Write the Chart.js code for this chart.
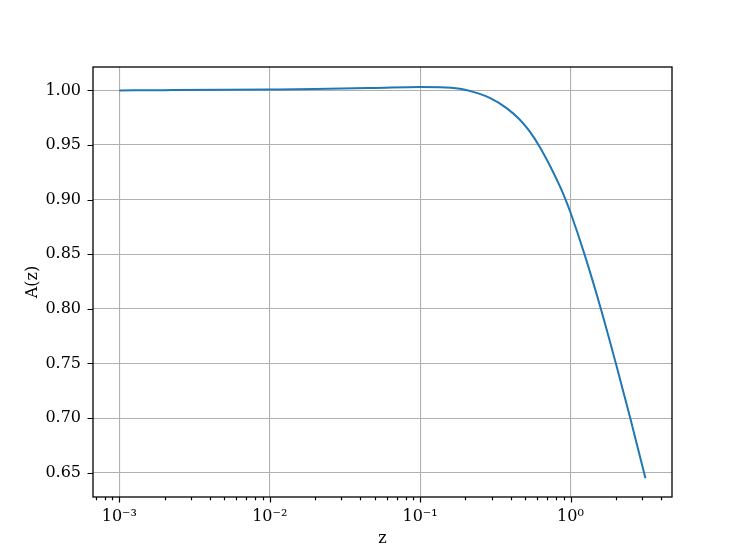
<!DOCTYPE html>
<html>
<head>
<meta charset="utf-8">
<script src="https://cdn.jsdelivr.net/npm/chart.js@4"></script>
<style>
  html, body { margin: 0; padding: 0; background: #fff; }
  #wrap { width: 747px; height: 560px; }
</style>
</head>
<body>
<div id="wrap"><canvas id="chart" width="747" height="560"></canvas></div>
<script>
// redshift values and the curve
const zValues = [0.001, 0.002, 0.005, 0.01, 0.02, 0.05, 0.1, 0.136, 0.184, 0.225, 0.29, 0.374, 0.459, 0.535, 0.623, 0.726, 0.849, 0.927, 1.0, 1.244, 1.589, 1.995, 2.49, 3.15];
const aValues = [1.0000, 1.0002, 1.0005, 1.0008, 1.0012, 1.0022, 1.0031, 1.0029, 1.0014, 0.9986, 0.9931, 0.984, 0.9733, 0.9624, 0.9485, 0.9317, 0.9123, 0.9001, 0.8882, 0.8492, 0.8004, 0.7509, 0.7005, 0.645];

const xMajorTicks = [0.001, 0.01, 0.1, 1];
const xTickLabels = ["10⁻³", "10⁻²", "10⁻¹", "10⁰"];
const yTicks = [0.65, 0.70, 0.75, 0.80, 0.85, 0.90, 0.95, 1.00];

const X_MIN = 6.68e-4;
const X_MAX = 4.73;
const Y_MIN = 0.6278;
const Y_MAX = 1.0214;

const FONT = "'DejaVu Serif', serif";

// minor ticks at 2..9 of every decade inside the range
const xMinorTicks = [];
for (let e = -4; e <= 0; e++) {
  for (let m = 2; m <= 9; m++) {
    const v = m * Math.pow(10, e);
    if (v >= X_MIN && v <= X_MAX) xMinorTicks.push(v);
  }
}

const framePlugin = {
  id: "frame",
  afterDraw(chart) {
    const { ctx, chartArea } = chart;
    const x = chart.scales.x;
    const y = chart.scales.y;
    ctx.save();
    ctx.strokeStyle = "#000";
    ctx.lineWidth = 1.3;
    ctx.strokeRect(chartArea.left, chartArea.top, chartArea.right - chartArea.left, chartArea.bottom - chartArea.top);

    ctx.lineWidth = 1.2;
    ctx.beginPath();
    xMajorTicks.forEach((v) => {
      const px = Math.round(x.getPixelForValue(v)) + 0.5;
      ctx.moveTo(px, chartArea.bottom);
      ctx.lineTo(px, chartArea.bottom + 5.5);
    });
    xMinorTicks.forEach((v) => {
      const px = Math.round(x.getPixelForValue(v)) + 0.5;
      ctx.moveTo(px, chartArea.bottom);
      ctx.lineTo(px, chartArea.bottom + 3.2);
    });
    yTicks.forEach((v) => {
      const py = Math.round(y.getPixelForValue(v)) + 0.5;
      ctx.moveTo(chartArea.left, py);
      ctx.lineTo(chartArea.left - 5.5, py);
    });
    ctx.stroke();
    ctx.restore();
  },
};

new Chart(document.getElementById("chart"), {
  type: "line",
  data: {
    datasets: [
      {
        data: zValues.map((z, i) => ({ x: z, y: aValues[i] })),
        borderColor: "#1f77b4",
        borderWidth: 2,
        pointRadius: 0,
        cubicInterpolationMode: "monotone",
        fill: false,
      },
    ],
  },
  options: {
    responsive: false,
    animation: false,
    layout: { padding: { top: 67, right: 75, left: 0, bottom: 0 } },
    plugins: {
      legend: { display: false },
      tooltip: { enabled: false },
    },
    scales: {
      x: {
        type: "logarithmic",
        min: X_MIN,
        max: X_MAX,
        afterBuildTicks: (scale) => {
          scale.ticks = xMajorTicks.map((v) => ({ value: v, major: true }));
        },
        afterFit: (scale) => {
          scale.height = 63;
        },
        ticks: {
          autoSkip: false,
          maxRotation: 0,
          padding: 10,
          color: "#000",
          font: { family: FONT, size: 16 },
          callback: (value) => {
            const i = xMajorTicks.findIndex((v) => Math.abs(v - value) / v < 1e-6);
            return i >= 0 ? xTickLabels[i] : "";
          },
        },
        grid: { color: "#b0b0b0", lineWidth: 1.1, drawTicks: false },
        border: { display: false },
        title: {
          display: true,
          text: "z",
          color: "#000",
          font: { family: FONT, size: 16 },
          padding: { top: 0, bottom: 12 },
        },
      },
      y: {
        type: "linear",
        min: Y_MIN,
        max: Y_MAX,
        afterBuildTicks: (scale) => {
          scale.ticks = yTicks.map((v) => ({ value: v }));
        },
        afterFit: (scale) => {
          scale.width = 93;
        },
        ticks: {
          padding: 12,
          color: "#000",
          font: { family: FONT, size: 16 },
          callback: (value) => value.toFixed(2),
        },
        grid: { color: "#b0b0b0", lineWidth: 1.1, drawTicks: false },
        border: { display: false },
        title: {
          display: true,
          text: "A(z)",
          color: "#000",
          font: { family: FONT, size: 16 },
          padding: { top: 23, bottom: 0 },
        },
      },
    },
  },
  plugins: [framePlugin],
});
</script>
</body>
</html>
